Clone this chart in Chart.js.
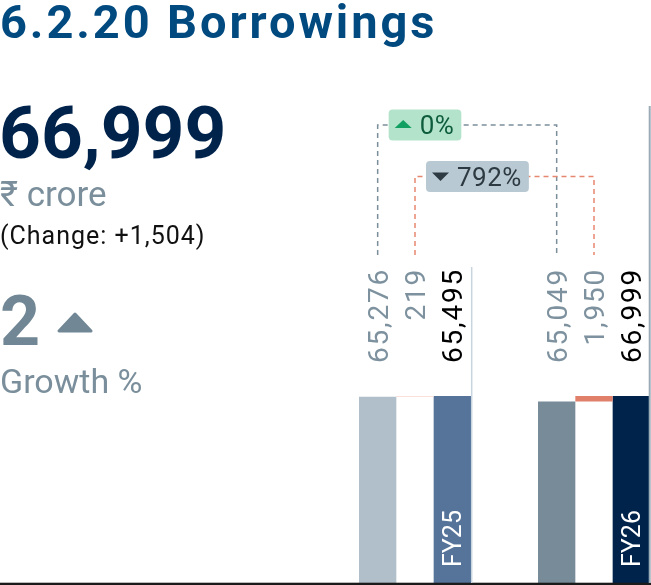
<!DOCTYPE html>
<html>
<head>
<meta charset="utf-8">
<script src="https://cdn.jsdelivr.net/npm/chart.js@4.4.0/dist/chart.umd.min.js"></script>
<style>
html,body{margin:0;padding:0;width:651px;height:585px;overflow:hidden;background:#fff;}
#wrap{position:absolute;left:0;top:0;width:700px;height:585px;}
.t{position:absolute;white-space:nowrap;font-family:Roboto,"Noto Sans",sans-serif;line-height:1;}
</style>
</head>
<body>
<div id="wrap"><canvas id="c" width="700" height="585"></canvas></div>
<div class="t" style="left:0;top:-2px;font-size:47px;font-weight:700;color:#004a80;letter-spacing:2.9px;">6.2.20 Borrowings</div>
<div class="t" style="left:-1px;top:97px;font-size:73px;font-weight:700;color:#00234c;">66,999</div>
<div class="t" style="left:0;top:177px;font-size:35px;color:#7a8f9b;">₹ crore</div>
<div class="t" style="left:0;top:223px;font-size:25px;color:#111;letter-spacing:1px;">(Change: +1,504)</div>
<div class="t" style="left:0;top:286px;font-size:70px;font-weight:700;color:#718795;">2</div>
<svg style="position:absolute;left:56px;top:311px" width="40" height="24"><polygon points="19,3 3,20 35,20" fill="#718795" stroke="#718795" stroke-width="3" stroke-linejoin="round"/></svg>
<div class="t" style="left:0;top:364px;font-size:34px;color:#7a8f9b;">Growth %</div>
<script>
const categories = ['FY25', 'FY26'];
const previousValues = [65276, 65049];
const changeValues = [219, 1950];
const currentValues = [65495, 66999];
const badgeTexts = ['0%', '792%'];
const badgeDirs = ['up', 'down'];

const prevColors = ['#b0bfc9', '#778b98'];
const changeColors = ['#f8d6cc', '#e07f6a'];
const currentColors = ['#56739a', '#00234c'];

const fmt = v => v.toLocaleString('en-US');
const datasets = [];
categories.forEach((cat, i) => {
  const axis = i === 0 ? 'y' : 'y2';
  const only = v => categories.map((_, j) => j === i ? v : null);
  datasets.push({ label: cat + ' previous', data: only([0, previousValues[i]]), backgroundColor: prevColors[i], yAxisID: axis });
  datasets.push({ label: cat + ' change', data: only([previousValues[i], previousValues[i] + changeValues[i]]), backgroundColor: changeColors[i], yAxisID: axis });
  datasets.push({ label: cat + ' current', data: only([0, currentValues[i]]), backgroundColor: currentColors[i], yAxisID: axis });
});

const overlay = {
  id: 'overlay',
  afterDatasetsDraw(chart) {
    const ctx = chart.ctx;
    const el = (ds, i) => chart.getDatasetMeta(ds).data[i];
    const bottom = chart.chartArea.bottom;
    ctx.save();
    ctx.fillStyle = '#1b1b1b';
    ctx.fillRect(0, 582.7, 651, 2.5);
    const c0 = el(2, 0), c1 = el(5, 1);
    ctx.lineWidth = 1.5; ctx.strokeStyle = '#c8d5de';
    ctx.beginPath(); ctx.moveTo(c0.x + c0.width / 2 + 0.7, 267); ctx.lineTo(c0.x + c0.width / 2 + 0.7, bottom); ctx.stroke();
    ctx.lineWidth = 2; ctx.strokeStyle = '#9aabb6';
    ctx.beginPath(); ctx.moveTo(c1.x + c1.width / 2 - 0.3, 106); ctx.lineTo(c1.x + c1.width / 2 - 0.3, bottom); ctx.stroke();

    ctx.font = '28px Roboto';
    ctx.letterSpacing = '1.8px';
    ctx.textBaseline = 'alphabetic';
    categories.forEach((cat, i) => {
      const vals = [previousValues[i], changeValues[i], currentValues[i]];
      const cols = ['#7d919e', '#7d919e', '#000000'];
      vals.forEach((v, k) => {
        const b = el(i * 3 + k, i);
        ctx.save();
        ctx.translate(b.x + 10, 268);
        ctx.rotate(-Math.PI / 2);
        ctx.textAlign = 'right';
        ctx.fillStyle = cols[k];
        ctx.fillText(fmt(v), 0, 0);
        ctx.restore();
      });
      const b = el(i * 3 + 2, i);
      ctx.save();
      ctx.letterSpacing = '0px';
      ctx.font = '25px Roboto';
      ctx.translate(b.x + 9, 567);
      ctx.rotate(-Math.PI / 2);
      ctx.textAlign = 'left';
      ctx.fillStyle = '#ffffff';
      ctx.fillText(cat, 0, 0);
      ctx.restore();
    });

    const conns = [
      { a: el(0, 0), b: el(3, 1), top: 125, color: '#7b8f9b', bg: '#b3e3cb', tri: '#12a062', txt: '#0d5c3c' },
      { a: el(1, 0), b: el(4, 1), top: 176.5, color: '#e8876f', bg: '#b9c9d3', tri: '#2d3a42', txt: '#2d3a42' }
    ];
    conns.forEach((c, n) => {
      ctx.save();
      ctx.setLineDash([5, 4]);
      ctx.lineWidth = 1.5;
      ctx.strokeStyle = c.color;
      ctx.beginPath();
      ctx.moveTo(c.a.x, 255); ctx.lineTo(c.a.x, c.top); ctx.lineTo(c.b.x, c.top); ctx.lineTo(c.b.x, 255);
      ctx.stroke();
      ctx.restore();
      ctx.save();
      ctx.font = '26px Roboto';
      ctx.letterSpacing = '0.5px';
      const tw = ctx.measureText(badgeTexts[n]).width;
      const l = c.a.x + 11, h = 31, t = c.top - 15.5, w = 31 + tw + 7;
      ctx.fillStyle = c.bg;
      ctx.beginPath(); ctx.roundRect(l, t, w, h, 4); ctx.fill();
      const cy = c.top;
      ctx.fillStyle = c.tri;
      ctx.beginPath();
      if (badgeDirs[n] === 'up') {
        ctx.moveTo(l + 6, cy + 3); ctx.lineTo(l + 23, cy + 3); ctx.lineTo(l + 14.5, cy - 5);
      } else {
        ctx.moveTo(l + 6, cy - 4); ctx.lineTo(l + 23, cy - 4); ctx.lineTo(l + 14.5, cy + 4.5);
      }
      ctx.closePath(); ctx.fill();
      ctx.fillStyle = c.txt;
      ctx.textAlign = 'left';
      ctx.textBaseline = 'alphabetic';
      ctx.fillText(badgeTexts[n], l + 31, cy + 9.3);
      ctx.restore();
    });
    ctx.restore();
  }
};

new Chart(document.getElementById('c'), {
  type: 'bar',
  data: { labels: categories, datasets },
  options: {
    responsive: false,
    animation: false,
    devicePixelRatio: 1,
    layout: { padding: { left: 325.5, right: 16.5, top: 302.5, bottom: 2 } },
    datasets: { bar: { skipNull: true, categoryPercentage: 112 / 179, barPercentage: 1, borderWidth: 0 } },
    plugins: { legend: { display: false }, tooltip: { enabled: false } },
    scales: {
      x: { display: false, offset: true },
      y: { display: false, min: 0, max: currentValues[0] * 1.5 },
      y2: { display: false, min: 0, max: currentValues[1] * 1.5, position: 'right' }
    }
  },
  plugins: [overlay]
});
</script>
</body>
</html>
